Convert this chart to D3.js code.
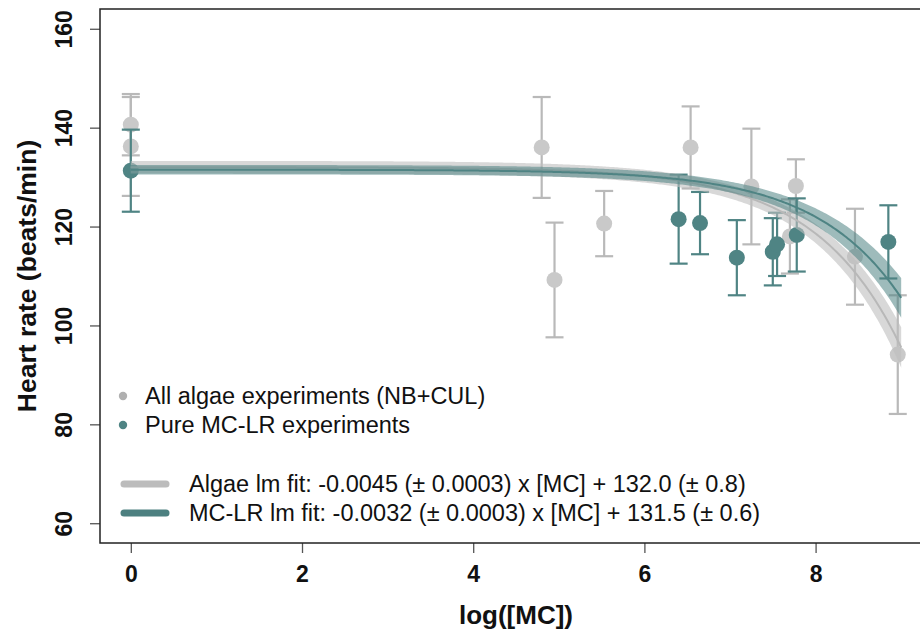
<!DOCTYPE html>
<html>
<head>
<meta charset="utf-8">
<script src="https://cdn.jsdelivr.net/npm/d3@7"></script>
<style>
  html, body { margin: 0; padding: 0; background: #fff; }
  svg text { font-family: "Liberation Sans", Arial, sans-serif; fill: #111; }
  svg .tick text { font-family: "Liberation Sans Narrow", "Liberation Sans", Arial, sans-serif; }
</style>
</head>
<body>
<svg id="chart" width="920" height="640"></svg>
<script>
// Algae experiments (NB+CUL): log([MC]), heart rate, error half-width
const algaeX   = [0, 0, 4.80, 4.95, 5.53, 6.54, 7.25, 7.70, 7.77, 8.46, 8.96];
const algaeY   = [140.6, 136.2, 136.0, 109.2, 120.6, 136.0, 128.1, 118.0, 128.2, 113.9, 94.1];
const algaeErr = [6.2, 10.0, 10.2, 11.6, 6.6, 8.3, 11.7, 7.5, 5.4, 9.7, 12.0];

// Pure MC-LR experiments
const mclrX   = [0, 6.40, 6.65, 7.08, 7.50, 7.55, 7.78, 8.85];
const mclrY   = [131.3, 121.5, 120.7, 113.7, 114.9, 116.4, 118.3, 116.9];
const mclrErr = [8.3, 9.0, 6.3, 7.6, 6.8, 6.4, 7.4, 7.4];

// lm fits: heart rate = slope x [MC] + intercept, [MC] = exp(log([MC]))
const fitNames      = ["Algae", "MC-LR"];
const fitSlope      = [-0.0045, -0.0032];
const fitSlopeSE    = [0.0003, 0.0003];
const fitIntercept  = [132.0, 131.5];
const fitInterceptSE = [0.8, 0.6];
const fitRange      = [0, 9];

const xTicks = [0, 2, 4, 6, 8];
const yTicks = [60, 80, 100, 120, 140, 160];

const GRAY_PT = "#c9c9c9", GRAY_BAR = "#b9b9b9", GRAY_LINE = "#b8b8b8", GRAY_BAND = "rgba(190,190,190,0.6)";
const TEAL = "#4f8484", TEAL_BAND = "rgba(79,132,132,0.55)";

const svg = d3.select("#chart");
const box = { left: 100, right: 932, top: 9, bottom: 543 };

const x = d3.scaleLinear().domain([-0.36, 9.36]).range([box.left, box.right]);
const y = d3.scaleLinear().domain([56, 164]).range([box.bottom, box.top]);

// axes
const xAxis = svg.append("g").attr("transform", "translate(0," + box.bottom + ")")
    .call(d3.axisBottom(x).tickValues(xTicks).tickSize(10).tickFormat(d3.format("d")));
const yAxis = svg.append("g").attr("transform", "translate(" + box.left + ",0)")
    .call(d3.axisLeft(y).tickValues(yTicks).tickSize(10).tickFormat(d3.format("d")));
[xAxis, yAxis].forEach(function (g) {
    g.select(".domain").remove();
    g.selectAll(".tick line").attr("stroke", "#555").attr("stroke-width", 1.3);
    g.selectAll(".tick text").attr("font-size", 23).attr("font-weight", "bold").attr("fill", "#111");
});
xAxis.selectAll(".tick text").attr("dy", null).attr("y", 39);
yAxis.selectAll(".tick text")
    .attr("x", null).attr("dy", null)
    .attr("text-anchor", "middle")
    .attr("transform", "translate(-28,0) rotate(-90)");

// box (right edge falls outside the page)
svg.append("rect")
    .attr("x", box.left).attr("y", box.top)
    .attr("width", box.right - box.left).attr("height", box.bottom - box.top)
    .attr("fill", "none").attr("stroke", "#222").attr("stroke-width", 1.5);

// axis titles
svg.append("text")
    .attr("x", (box.left + box.right) / 2).attr("y", 624)
    .attr("text-anchor", "middle").attr("font-size", 26).attr("font-weight", "bold")
    .text("log([MC])");
svg.append("text")
    .attr("transform", "translate(36," + ((box.top + box.bottom) / 2) + ") rotate(-90)")
    .attr("text-anchor", "middle").attr("font-size", 26.5).attr("font-weight", "bold")
    .text("Heart rate (beats/min)");

const plot = svg.append("g");

function drawSeries(xs, ys, errs, barColor, ptColor) {
    const data = xs.map(function (d, i) { return { x: d, y: ys[i], e: errs[i] }; });
    const g = plot.append("g");
    const bars = g.selectAll("g.err").data(data).enter().append("g")
        .attr("stroke", barColor).attr("stroke-width", 2.2);
    bars.append("line")
        .attr("x1", function (d) { return x(d.x); }).attr("x2", function (d) { return x(d.x); })
        .attr("y1", function (d) { return y(d.y - d.e); }).attr("y2", function (d) { return y(d.y + d.e); });
    [-1, 1].forEach(function (s) {
        bars.append("line")
            .attr("x1", function (d) { return x(d.x) - 9; }).attr("x2", function (d) { return x(d.x) + 9; })
            .attr("y1", function (d) { return y(d.y + s * d.e); }).attr("y2", function (d) { return y(d.y + s * d.e); });
    });
    g.selectAll("circle").data(data).enter().append("circle")
        .attr("cx", function (d) { return x(d.x); })
        .attr("cy", function (d) { return y(d.y); })
        .attr("r", 8)
        .attr("fill", ptColor);
}

drawSeries(algaeX, algaeY, algaeErr, GRAY_BAR, GRAY_PT);
drawSeries(mclrX, mclrY, mclrErr, TEAL, TEAL);

// fitted curves with confidence bands
const grid = d3.range(fitRange[0], fitRange[1] + 0.001, 0.02);
const bandColors = [GRAY_BAND, TEAL_BAND];
const lineColors = [GRAY_LINE, TEAL];

fitNames.forEach(function (name, k) {
    const pts = grid.map(function (lx) {
        const mc = Math.exp(lx);
        const fit = fitSlope[k] * mc + fitIntercept[k];
        const half = 1.6 * Math.sqrt(Math.pow(fitSlopeSE[k] * mc, 2) + Math.pow(fitInterceptSE[k], 2));
        return { lx: lx, fit: fit, lo: fit - half, hi: fit + half };
    });
    plot.append("path").datum(pts)
        .attr("fill", bandColors[k])
        .attr("d", d3.area().x(function (d) { return x(d.lx); })
            .y0(function (d) { return y(d.lo); }).y1(function (d) { return y(d.hi); }));
    plot.append("path").datum(pts)
        .attr("fill", "none").attr("stroke", lineColors[k]).attr("stroke-width", 2)
        .attr("d", d3.line().x(function (d) { return x(d.lx); }).y(function (d) { return y(d.fit); }));
});

// legend: points
const legPts = [
    { label: "All algae experiments (NB+CUL)", color: "#b0b0b0", y: 396 },
    { label: "Pure MC-LR experiments", color: TEAL, y: 425 }
];
const lg = svg.append("g");
legPts.forEach(function (d) {
    lg.append("circle").attr("cx", 123).attr("cy", d.y).attr("r", 4.2).attr("fill", d.color);
    lg.append("text").attr("x", 145).attr("y", d.y + 8).attr("font-size", 23.5).text(d.label);
});

// legend: fit lines
const legFmt = d3.format(".4f"), legFmt1 = d3.format(".1f");
const legLines = fitNames.map(function (name, k) {
    return {
        label: name + " lm fit: " + legFmt(fitSlope[k]).replace("−", "-") + " (± " + legFmt(fitSlopeSE[k]) +
            ") x [MC] + " + legFmt1(fitIntercept[k]) + " (± " + legFmt1(fitInterceptSE[k]) + ")",
        color: k === 0 ? "#bcbcbc" : "#4d8080",
        y: k === 0 ? 484 : 513
    };
});
legLines.forEach(function (d) {
    lg.append("line").attr("x1", 124).attr("x2", 166).attr("y1", d.y).attr("y2", d.y)
        .attr("stroke", d.color).attr("stroke-width", 7).attr("stroke-linecap", "round");
    lg.append("text").attr("x", 189).attr("y", d.y + 8).attr("font-size", 23.5).text(d.label);
});
</script>
</body>
</html>
